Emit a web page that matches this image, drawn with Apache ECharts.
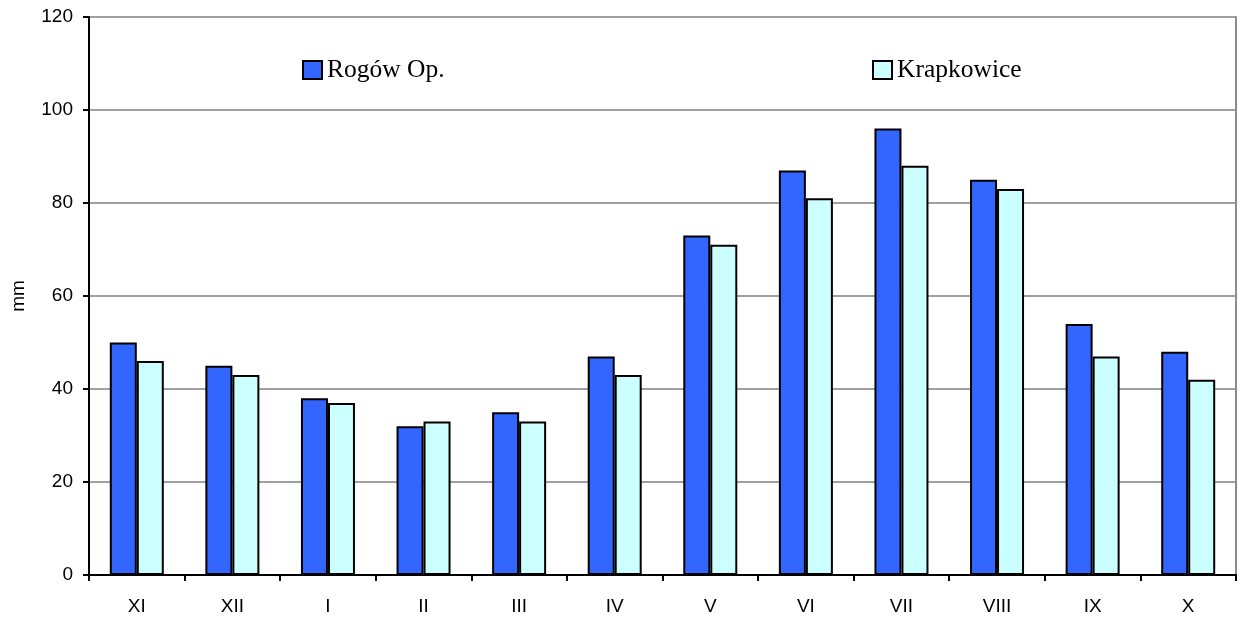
<!DOCTYPE html>
<html>
<head>
<meta charset="utf-8">
<title>Opady miesięczne</title>
<script src="https://cdn.jsdelivr.net/npm/echarts@6/dist/echarts.min.js"></script>
<style>
  html, body { margin: 0; padding: 0; background: #fff; }
  #chart { width: 1239px; height: 617px; }
</style>
</head>
<body>
<div id="chart"></div>
<script>
// Hydrological-year months, November to October
const months = ['XI', 'XII', 'I', 'II', 'III', 'IV', 'V', 'VI', 'VII', 'VIII', 'IX', 'X'];
// Monthly precipitation, mm
const rogow = [50, 45, 38, 32, 35, 47, 73, 87, 96, 85, 54, 48];
const krapkowice = [46, 43, 37, 33, 33, 43, 71, 81, 88, 83, 47, 42];
const seriesNames = ['Rogów Op.', 'Krapkowice'];

const chart = echarts.init(document.getElementById('chart'), null, { renderer: 'canvas' });

const sans = '"Liberation Sans", Arial, sans-serif';
const legendText = {
  fontFamily: '"Liberation Serif", "Times New Roman", serif',
  fontSize: 25.5,
  color: '#000',
  lineHeight: 26
};
const legendBase = {
  orient: 'horizontal',
  top: 57,
  padding: 0,
  itemWidth: 19,
  itemHeight: 18,
  itemGap: 0,
  icon: 'rect',
  selectedMode: false,
  textStyle: legendText
};

chart.setOption({
  animation: false,
  backgroundColor: '#fff',
  grid: { left: 89, right: 3, top: 17, bottom: 42, containLabel: false },
  legend: [
    Object.assign({}, legendBase, { left: 302, data: [seriesNames[0]] }),
    Object.assign({}, legendBase, { left: 872, data: [seriesNames[1]] })
  ],
  xAxis: {
    type: 'category',
    data: months,
    axisLine: { show: true, lineStyle: { color: '#000', width: 2 } },
    axisTick: { show: true, length: 6, alignWithLabel: false, lineStyle: { color: '#000', width: 2 } },
    axisLabel: { margin: 22, fontFamily: sans, fontSize: 19, color: '#000' },
    splitLine: { show: false }
  },
  yAxis: [
    {
      type: 'value',
      min: 0,
      max: 120,
      interval: 20,
      name: 'mm',
      nameLocation: 'middle',
      nameGap: 61,
      nameRotate: 90,
      nameTextStyle: { fontFamily: sans, fontSize: 19, color: '#000' },
      axisLine: { show: true, lineStyle: { color: '#000', width: 2 } },
      axisTick: { show: true, length: 6, inside: false, lineStyle: { color: '#000', width: 2 } },
      axisLabel: { margin: 16, fontFamily: sans, fontSize: 19, color: '#000' },
      splitLine: { show: true, lineStyle: { color: '#a0a0a0', width: 2 } }
    },
    {
      // right-hand frame of the plot area
      type: 'value',
      position: 'right',
      min: 0,
      max: 120,
      interval: 20,
      axisLine: { show: true, lineStyle: { color: '#8c8c8c', width: 2 } },
      axisTick: { show: false },
      axisLabel: { show: false },
      splitLine: { show: false }
    }
  ],
  series: [
    {
      name: seriesNames[0],
      type: 'bar',
      data: rogow,
      barWidth: 27,
      barGap: '0%',
      itemStyle: { color: '#3366ff', borderColor: '#000', borderWidth: 2 }
    },
    {
      name: seriesNames[1],
      type: 'bar',
      data: krapkowice,
      barWidth: 27,
      barGap: '0%',
      itemStyle: { color: '#ccffff', borderColor: '#000', borderWidth: 2 }
    }
  ]
});
</script>
</body>
</html>
